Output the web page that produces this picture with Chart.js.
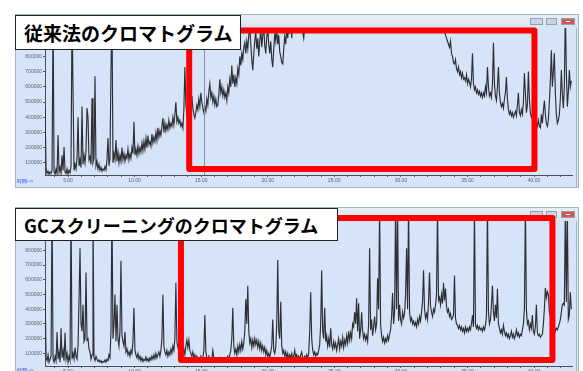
<!DOCTYPE html>
<html>
<head>
<meta charset="utf-8">
<script src="https://cdn.jsdelivr.net/npm/chart.js@4/dist/chart.umd.min.js"></script>
<style>
  html, body { margin: 0; padding: 0; background: #fff; width: 583px; height: 371px; overflow: hidden; }
  .win { position: absolute; }
  canvas { display: block; }
  .title {
    position: absolute; z-index: 3; box-sizing: border-box;
    background: #fff; border: 1px solid #222; color: #000;
    font-family: "Noto Sans CJK JP", sans-serif; font-weight: bold;
    display: flex; align-items: center; white-space: nowrap; padding-left: 8px;
  }
  .axisname { position: absolute; z-index: 3; font: 5px "Liberation Sans", sans-serif; color: #2a4ae0; white-space: nowrap; }
</style>
</head>
<body>
<div class="win" style="left:15px;top:14px;"><canvas id="conventional" width="564" height="174"></canvas></div>
<div class="win" style="left:15px;top:207px;"><canvas id="screening" width="564" height="174"></canvas></div>
<div class="title" style="left:15px;top:15px;width:226px;height:35px;font-size:19px;">従来法のクロマトグラム</div>
<div class="title" style="left:15px;top:208px;width:323px;height:33px;font-size:18px;">GCスクリーニングのクロマトグラム</div>
<div class="axisname" style="left:17px;top:178px;">時間--&gt;</div>
<div class="axisname" style="left:17px;top:367px;">時間--&gt;</div>
<script>
// Retention time of each scan (min)
const scanTimes = [
  3.275,3.35,3.425,3.5,3.575,3.65,3.725,3.8,3.875,3.95,4.025,4.1,4.175,4.25,4.325,4.4,4.475,4.55,4.625,4.7,
  4.775,4.85,4.925,5,5.075,5.15,5.225,5.3,5.375,5.45,5.525,5.6,5.675,5.75,5.825,5.9,5.975,6.05,6.125,6.2,
  6.275,6.35,6.425,6.5,6.575,6.65,6.725,6.8,6.875,6.95,7.025,7.1,7.175,7.25,7.325,7.4,7.475,7.55,7.625,7.7,
  7.775,7.85,7.925,8,8.075,8.15,8.225,8.3,8.375,8.45,8.525,8.6,8.675,8.75,8.825,8.9,8.975,9.05,9.125,9.2,
  9.275,9.35,9.425,9.5,9.575,9.65,9.725,9.8,9.875,9.95,10.025,10.1,10.175,10.25,10.325,10.4,10.475,10.55,10.625,10.7,
  10.775,10.85,10.925,11,11.075,11.15,11.225,11.3,11.375,11.45,11.525,11.6,11.675,11.75,11.825,11.9,11.975,12.05,12.125,12.2,
  12.275,12.35,12.425,12.5,12.575,12.65,12.725,12.8,12.875,12.95,13.025,13.1,13.175,13.25,13.325,13.4,13.475,13.55,13.625,13.7,
  13.775,13.85,13.925,14,14.075,14.15,14.225,14.3,14.375,14.45,14.525,14.6,14.675,14.75,14.825,14.9,14.975,15.05,15.125,15.2,
  15.275,15.35,15.425,15.5,15.575,15.65,15.725,15.8,15.875,15.95,16.025,16.1,16.175,16.25,16.325,16.4,16.475,16.55,16.625,16.7,
  16.775,16.85,16.925,17,17.075,17.15,17.225,17.3,17.375,17.45,17.525,17.6,17.675,17.75,17.825,17.9,17.975,18.05,18.125,18.2,
  18.275,18.35,18.425,18.5,18.575,18.65,18.725,18.8,18.875,18.95,19.025,19.1,19.175,19.25,19.325,19.4,19.475,19.55,19.625,19.7,
  19.775,19.85,19.925,20,20.075,20.15,20.225,20.3,20.375,20.45,20.525,20.6,20.675,20.75,20.825,20.9,20.975,21.05,21.125,21.2,
  21.275,21.35,21.425,21.5,21.575,21.65,21.725,21.8,21.875,21.95,22.025,22.1,22.175,22.25,22.325,22.4,22.475,22.55,22.625,22.7,
  22.775,22.85,22.925,23,23.075,23.15,23.225,23.3,23.375,23.45,23.525,23.6,23.675,23.75,23.825,23.9,23.975,24.05,24.125,24.2,
  24.275,24.35,24.425,24.5,24.575,24.65,24.725,24.8,24.875,24.95,25.025,25.1,25.175,25.25,25.325,25.4,25.475,25.55,25.625,25.7,
  25.775,25.85,25.925,26,26.075,26.15,26.225,26.3,26.375,26.45,26.525,26.6,26.675,26.75,26.825,26.9,26.975,27.05,27.125,27.2,
  27.275,27.35,27.425,27.5,27.575,27.65,27.725,27.8,27.875,27.95,28.025,28.1,28.175,28.25,28.325,28.4,28.475,28.55,28.625,28.7,
  28.775,28.85,28.925,29,29.075,29.15,29.225,29.3,29.375,29.45,29.525,29.6,29.675,29.75,29.825,29.9,29.975,30.05,30.125,30.2,
  30.275,30.35,30.425,30.5,30.575,30.65,30.725,30.8,30.875,30.95,31.025,31.1,31.175,31.25,31.325,31.4,31.475,31.55,31.625,31.7,
  31.775,31.85,31.925,32,32.075,32.15,32.225,32.3,32.375,32.45,32.525,32.6,32.675,32.75,32.825,32.9,32.975,33.05,33.125,33.2,
  33.275,33.35,33.425,33.5,33.575,33.65,33.725,33.8,33.875,33.95,34.025,34.1,34.175,34.25,34.325,34.4,34.475,34.55,34.625,34.7,
  34.775,34.85,34.925,35,35.075,35.15,35.225,35.3,35.375,35.45,35.525,35.6,35.675,35.75,35.825,35.9,35.975,36.05,36.125,36.2,
  36.275,36.35,36.425,36.5,36.575,36.65,36.725,36.8,36.875,36.95,37.025,37.1,37.175,37.25,37.325,37.4,37.475,37.55,37.625,37.7,
  37.775,37.85,37.925,38,38.075,38.15,38.225,38.3,38.375,38.45,38.525,38.6,38.675,38.75,38.825,38.9,38.975,39.05,39.125,39.2,
  39.275,39.35,39.425,39.5,39.575,39.65,39.725,39.8,39.875,39.95,40.025,40.1,40.175,40.25,40.325,40.4,40.475,40.55,40.625,40.7,
  40.775,40.85,40.925,41,41.075,41.15,41.225,41.3,41.375,41.45,41.525,41.6,41.675,41.75,41.825,41.9,41.975,42.05,42.125,42.2,
  42.275,42.35,42.425,42.5,42.575,42.65,42.725,42.8
];

// Total ion abundance, conventional method (null = above the displayed range)
const conventionalAbundance = [
  470000,60000,30000,45000,25000,40000,30000,50000,1100000,40000,25000,60000,30000,283000,40000,70000,30000,150000,50000,204000,
  40000,30000,60000,25000,50000,35000,80000,1100000,570000,50000,90000,60000,130000,400000,80000,120000,70000,470000,90000,150000,
  100000,180000,460000,400000,120000,140000,90000,525000,100000,130000,670000,80000,110000,60000,90000,50000,70000,45000,60000,50000,
  75000,55000,120000,263000,80000,130000,700000,1100000,100000,160000,120000,250000,110000,170000,100000,150000,110000,200000,120000,160000,
  110000,150000,130000,190000,120000,160000,130000,200000,160000,370000,150000,190000,150000,210000,160000,200000,170000,230000,180000,240000,
  190000,260000,200000,280000,220000,240000,210000,290000,230000,270000,240000,300000,250000,330000,270000,310000,280000,340000,395000,300000,
  360000,310000,350000,320000,380000,330000,360000,340000,400000,350000,420000,500000,370000,400000,360000,380000,340000,360000,330000,450000,
  730000,480000,420000,470000,450000,530000,480000,540000,460000,420000,395000,430000,480000,450000,520000,470000,560000,500000,460000,430000,
  470000,440000,520000,480000,570000,620000,530000,560000,500000,540000,480000,520000,470000,480000,550000,650000,560000,600000,540000,580000,
  530000,560000,510000,600000,560000,650000,600000,740000,620000,680000,600000,660000,620000,720000,680000,800000,740000,820000,780000,860000,
  890000,820000,900000,850000,940000,1000000,880000,780000,710000,820000,900000,960000,850000,920000,800000,900000,980000,860000,940000,1000000,
  870000,820000,930000,980000,880000,820000,900000,780000,730000,850000,950000,900000,990000,880000,940000,830000,800000,760000,750000,850000,
  930000,880000,990000,920000,1000000,950000,1050000,920000,1050000,1100000,1100000,1100000,1050000,1100000,1100000,1050000,1000000,1100000,960000,920000,
  990000,1100000,null,null,null,null,null,null,null,null,null,null,null,null,null,null,null,null,null,null,
  null,null,null,null,null,null,null,null,null,null,null,null,null,null,null,null,null,null,null,null,
  null,null,null,null,null,null,null,null,null,null,null,null,null,null,null,null,null,null,null,null,
  null,null,null,null,null,null,null,null,null,null,null,null,null,null,null,null,null,null,null,null,
  null,null,null,null,null,null,null,null,null,null,null,null,null,null,null,null,null,null,null,null,
  null,null,null,null,null,null,null,null,null,null,null,null,null,null,null,null,null,null,null,null,
  null,null,null,null,null,null,null,null,null,null,null,null,null,null,null,1100000,1050000,1020000,1000000,980000,
  960000,940000,920000,900000,880000,860000,900000,820000,800000,760000,750000,780000,720000,700000,730000,680000,700000,660000,690000,650000,
  660000,640000,680000,620000,650000,630000,600000,650000,820000,620000,580000,600000,560000,580000,550000,570000,540000,560000,530000,560000,
  540000,600000,560000,730000,600000,540000,560000,530000,620000,890000,620000,540000,510000,600000,730000,560000,500000,470000,490000,460000,
  520000,560000,665000,520000,450000,420000,440000,410000,430000,400000,420000,440000,410000,480000,560000,430000,410000,450000,420000,500000,
  690000,560000,430000,480000,700000,520000,430000,400000,420000,390000,380000,400000,360000,340000,380000,340000,330000,420000,360000,440000,
  510000,420000,360000,340000,380000,500000,640000,840000,600000,700000,820000,560000,420000,360000,380000,420000,520000,710000,560000,460000,
  600000,1100000,700000,470000,560000,710000,600000,640000
];

// Total ion abundance, GC screening method
const screeningAbundance = [
  530000,70000,50000,90000,40000,60000,80000,1100000,60000,40000,80000,50000,245000,60000,110000,40000,270000,70000,120000,50000,
  240000,60000,100000,40000,80000,50000,1100000,60000,100000,60000,140000,80000,60000,150000,460000,815000,300000,250000,430000,180000,
  200000,650000,190000,200000,130000,110000,60000,90000,1100000,70000,50000,80000,60000,45000,55000,40000,50000,35000,45000,40000,
  55000,40000,60000,50000,90000,70000,250000,1100000,200000,300000,500000,180000,430000,200000,150000,250000,730000,220000,180000,150000,
  245000,110000,130000,90000,110000,80000,120000,100000,180000,410000,120000,90000,70000,100000,60000,80000,50000,70000,45000,60000,
  50000,75000,50000,65000,45000,70000,55000,80000,60000,90000,65000,100000,70000,90000,110000,80000,120000,200000,500000,150000,
  110000,90000,120000,80000,110000,90000,130000,100000,150000,120000,200000,580000,180000,140000,120000,160000,110000,150000,100000,130000,
  90000,150000,190000,140000,190000,120000,100000,80000,110000,70000,90000,60000,80000,55000,70000,60000,80000,55000,70000,120000,
  360000,110000,70000,60000,80000,55000,70000,60000,120000,70000,55000,65000,50000,60000,55000,70000,50000,65000,55000,60000,
  50000,70000,60000,80000,60000,90000,120000,200000,410000,150000,100000,130000,90000,150000,110000,160000,120000,180000,130000,170000,
  250000,470000,300000,560000,250000,170000,200000,140000,190000,150000,200000,160000,190000,140000,180000,130000,170000,120000,150000,110000,
  140000,90000,120000,80000,100000,70000,110000,150000,330000,120000,100000,140000,300000,735000,250000,200000,450000,150000,100000,120000,
  80000,110000,70000,100000,60000,90000,70000,100000,60000,80000,120000,70000,90000,60000,80000,55000,90000,110000,70000,60000,
  80000,60000,90000,70000,100000,250000,515000,200000,120000,90000,110000,80000,100000,90000,120000,160000,300000,665000,250000,200000,
  410000,180000,220000,150000,200000,140000,270000,160000,130000,180000,140000,170000,120000,160000,200000,130000,180000,150000,210000,140000,
  190000,160000,220000,170000,250000,190000,240000,200000,300000,280000,380000,300000,475000,250000,440000,200000,260000,380000,250000,200000,
  230000,190000,220000,180000,300000,815000,260000,330000,220000,280000,350000,260000,300000,610000,400000,1100000,300000,220000,180000,210000,
  170000,200000,180000,220000,190000,230000,260000,350000,510000,300000,380000,1100000,400000,1100000,320000,430000,330000,300000,380000,340000,
  370000,500000,815000,400000,1100000,380000,320000,340000,300000,320000,290000,310000,280000,330000,300000,350000,320000,380000,450000,665000,
  400000,340000,370000,330000,450000,650000,420000,380000,350000,400000,380000,430000,500000,1100000,460000,480000,430000,500000,440000,580000,
  460000,540000,420000,380000,400000,350000,370000,330000,340000,360000,630000,340000,300000,290000,270000,290000,260000,280000,250000,270000,
  240000,280000,250000,270000,250000,280000,260000,300000,360000,280000,1100000,300000,270000,290000,260000,280000,260000,270000,250000,280000,
  260000,290000,350000,1100000,380000,300000,330000,430000,560000,380000,320000,430000,340000,540000,300000,270000,240000,260000,230000,290000,
  250000,220000,240000,210000,230000,200000,220000,250000,210000,230000,200000,220000,260000,220000,240000,210000,230000,220000,260000,300000,
  400000,1100000,400000,300000,320000,260000,300000,270000,360000,250000,230000,280000,430000,240000,220000,230000,210000,220000,230000,300000,
  400000,545000,480000,520000,500000,380000,350000,300000,260000,240000,280000,250000,270000,260000,280000,300000,330000,380000,430000,440000,
  430000,1100000,450000,1100000,330000,360000,515000,400000
];

// Axis ticks
const abundanceTicks = [100000, 200000, 300000, 400000, 500000, 600000, 700000, 800000];
const minuteTicks = [4,5,6,7,8,9,10,11,12,13,14,15,16,17,18,19,20,21,22,23,24,25,26,27,28,29,30,31,32,33,34,35,36,37,38,39,40,41,42];
const labelledMinutes = [5, 10, 15, 20, 25, 30, 35, 40];

// Displayed ranges
const timeRange = [3.27, 42.85];
const conventionalRange = [20000, 987000];
const screeningRange = [14000, 1000000];

// Highlighted regions: [start time, end time] and [low, high] abundance
const conventionalBoxTime = [14.1, 40.03];
const conventionalBoxAbundance = [59000, 970000];
const screeningBoxTime = [13.48, 41.38];
const screeningBoxAbundance = [54000, 1020000];

// Vertical marker in the conventional run (min)
const conventionalMarkers = [15.2];

// Window frame: title bar, client background, caption buttons
const windowChrome = {
  id: 'windowChrome',
  beforeDraw(chart, args, o) {
    const { ctx, width, height } = chart;
    ctx.save();
    ctx.fillStyle = '#e3ebf5';
    ctx.fillRect(0, 0, width, height);
    const g = ctx.createLinearGradient(0, 0, 0, o.titleBar);
    g.addColorStop(0, '#eaf0f8');
    g.addColorStop(1, '#d8e3f0');
    ctx.fillStyle = g;
    ctx.fillRect(0, 0, width, o.titleBar);
    ctx.fillStyle = '#d5e4f8';
    ctx.fillRect(1, o.titleBar, width - 4, height - o.titleBar - 1);
    ctx.strokeStyle = '#a3b4ca';
    ctx.lineWidth = 1;
    ctx.strokeRect(0.5, 0.5, width - 1, height - 1);
    ctx.beginPath();
    ctx.moveTo(width - 2.5, o.titleBar);
    ctx.lineTo(width - 2.5, height);
    ctx.stroke();
    // caption buttons
    const by = o.buttonTop, bh = 7;
    const btns = [[width - 49, 13, '#c9d5e5'], [width - 33, 11, '#c9d5e5'], [width - 18, 14, '#d0584c']];
    btns.forEach(([bx, bw, c]) => {
      ctx.fillStyle = c;
      ctx.fillRect(bx, by, bw, bh);
      ctx.strokeStyle = '#8e9fb6';
      ctx.strokeRect(bx + 0.5, by + 0.5, bw - 1, bh - 1);
    });
    ctx.fillStyle = '#fff';
    ctx.fillRect(width - 13, by + 3, 4, 1);
    ctx.restore();
  }
};

// Red highlight frame and marker lines, placed in data units
const highlight = {
  id: 'highlight',
  afterDatasetsDraw(chart, args, o) {
    const { ctx, chartArea } = chart;
    const xs = chart.scales.x, ys = chart.scales.y;
    ctx.save();
    (o.markers || []).forEach(t => {
      const px = Math.round(xs.getPixelForValue(t)) + 0.5;
      ctx.strokeStyle = '#8a8f98';
      ctx.lineWidth = 1;
      ctx.beginPath();
      ctx.moveTo(px, chartArea.top);
      ctx.lineTo(px, chartArea.bottom);
      ctx.stroke();
    });
    const l = xs.getPixelForValue(o.time[0]), r = xs.getPixelForValue(o.time[1]);
    const b = ys.getPixelForValue(o.abundance[0]), t = ys.getPixelForValue(o.abundance[1]);
    ctx.strokeStyle = '#ff0000';
    ctx.lineWidth = 6;
    ctx.lineJoin = 'round';
    ctx.strokeRect(l, t, r - l, b - t);
    ctx.restore();
  }
};

const tickFont = { family: '"Liberation Sans", Arial, sans-serif', size: 5 };

function chromatogram(id, abundance, yRange, xAxisHeight, boxTime, boxAbundance, markers) {
  return new Chart(document.getElementById(id), {
    type: 'line',
    data: {
      datasets: [{
        data: scanTimes.map((t, i) => ({ x: t, y: abundance[i] })),
        borderColor: '#2e2f33',
        borderWidth: 1.15,
        pointRadius: 0,
        tension: 0,
        spanGaps: true
      }]
    },
    options: {
      responsive: false,
      animation: false,
      events: [],
      layout: { padding: { top: 14, right: 7, left: 0, bottom: 0 } },
      plugins: {
        legend: { display: false },
        tooltip: { enabled: false },
        windowChrome: { titleBar: 14, buttonTop: 4 },
        highlight: { time: boxTime, abundance: boxAbundance, markers: markers }
      },
      scales: {
        x: {
          type: 'linear',
          min: timeRange[0], max: timeRange[1],
          afterBuildTicks: s => { s.ticks = minuteTicks.map(v => ({ value: v })); },
          afterFit: s => { s.height = xAxisHeight; },
          ticks: {
            autoSkip: false, maxRotation: 0, padding: 1, font: tickFont, color: '#5a5f68',
            callback: v => labelledMinutes.includes(v) ? v.toFixed(2) : ''
          },
          grid: { drawOnChartArea: false, tickLength: 2, color: '#555a62' },
          border: { color: '#4a4f57', width: 1 }
        },
        y: {
          min: yRange[0], max: yRange[1],
          afterBuildTicks: s => { s.ticks = abundanceTicks.map(v => ({ value: v })); },
          afterFit: s => { s.width = 30; },
          ticks: { padding: 1, font: tickFont, color: '#5a5f68', callback: v => String(v) },
          grid: { drawOnChartArea: false, tickLength: 2, color: '#555a62' },
          border: { color: '#4a4f57', width: 1 }
        }
      }
    },
    plugins: [windowChrome, highlight]
  });
}

chromatogram('conventional', conventionalAbundance, conventionalRange, 13,
  conventionalBoxTime, conventionalBoxAbundance, conventionalMarkers);
chromatogram('screening', screeningAbundance, screeningRange, 15,
  screeningBoxTime, screeningBoxAbundance, []);
</script>
</body>
</html>
